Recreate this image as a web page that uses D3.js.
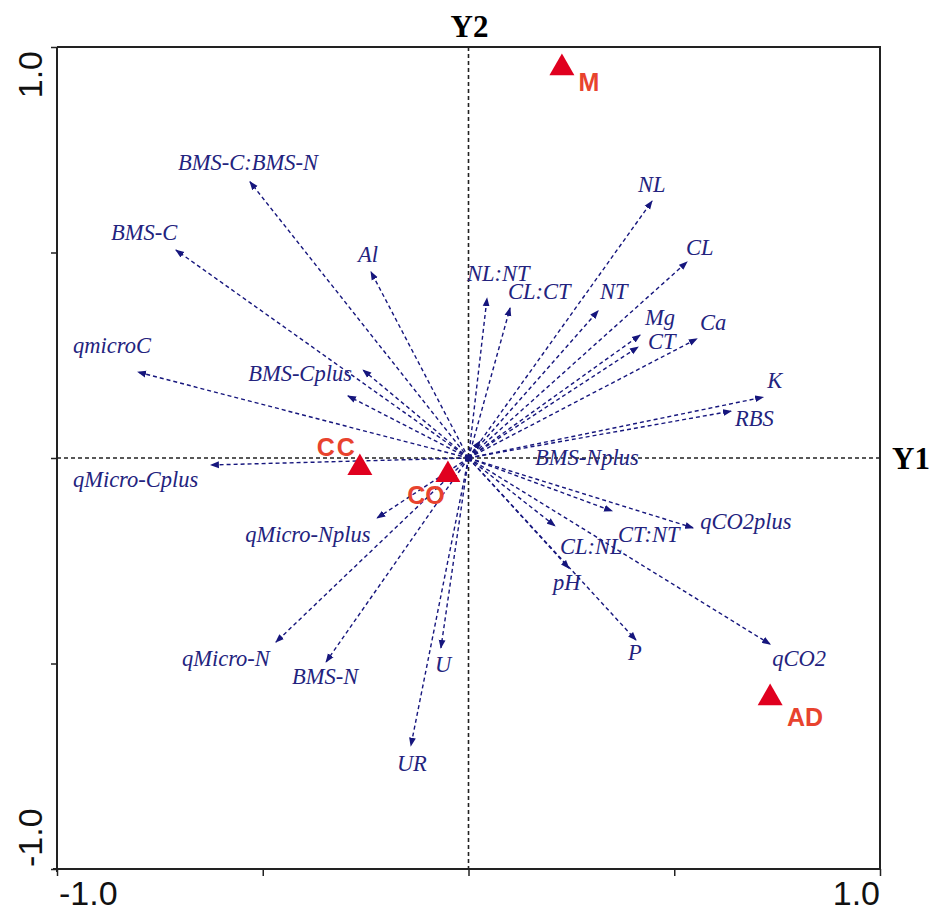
<!DOCTYPE html>
<html>
<head>
<meta charset="utf-8">
<script src="https://cdn.jsdelivr.net/npm/d3@7"></script>
<style>
  html, body { margin: 0; padding: 0; background: #fff; }
  svg { display: block; }
</style>
</head>
<body>
<svg id="chart" width="929" height="911"></svg>
<script>
// ---- data ----
const varNames = ["BMS-C:BMS-N","BMS-C","Al","qmicroC","BMS-Cplus","","qMicro-Cplus","qMicro-Nplus",
  "qMicro-N","BMS-N","U","UR","NL:NT","CL:CT","NT","NL","CL","Mg","CT","Ca","K","RBS",
  "BMS-Nplus","qCO2plus","CT:NT","CL:NL","pH","P","qCO2"];
const varX = [-0.531,-0.711,-0.237,-0.803,-0.256,-0.293,-0.626,-0.222,
  -0.468,-0.346,-0.067,-0.140,0.045,0.101,0.315,0.446,0.531,0.417,0.412,0.555,0.716,0.638,
  0.028,0.546,0.349,0.210,0.244,0.407,0.733];
const varY = [0.672,0.506,0.453,0.209,0.214,0.151,-0.017,-0.146,
  -0.448,-0.496,-0.462,-0.700,0.389,0.365,0.358,0.625,0.477,0.299,0.270,0.290,0.148,0.114,
  0.041,-0.170,-0.129,-0.165,-0.268,-0.443,-0.453];

const siteNames = ["M","CC","CO","AD"];
const siteX = [0.227,-0.264,-0.050,0.733];
const siteY = [0.949,-0.024,-0.041,-0.584];

const axisTicks = [-1,-0.5,0,0.5,1];
const tickLabels = {"-1": "-1.0", "1": "1.0"};
const axisTitles = {x: "Y1", y: "Y2"};

// ---- layout (label placement offsets in px, relative to arrow tip / symbol) ----
const varLabelOffset = {
  "BMS-C:BMS-N":[-72,-19], "BMS-C":[-65,-17], "Al":[-13,-17], "qmicroC":[-65,-27],
  "BMS-Cplus":[-115,4], "":[0,0], "qMicro-Cplus":[-138,15], "qMicro-Nplus":[-132,17],
  "qMicro-N":[-94,16], "BMS-N":[-34,15], "U":[-6,17], "UR":[-14,18],
  "NL:NT":[-20,-25], "CL:CT":[-2,-16], "NT":[2,-19], "NL":[-14,-17], "CL":[-1,-14],
  "Mg":[5,-18], "CT":[10,-5], "Ca":[3,-16], "K":[4,-17], "RBS":[4,7],
  "BMS-Nplus":[55,16], "qCO2plus":[7,-6], "CT:NT":[6,24], "CL:NL":[5,21],
  "pH":[-16,14], "P":[-8,13], "qCO2":[2,14]
};
const siteLabelOffset = {"M":[27,14], "CC":[-23,-21], "CO":[-22,20], "AD":[35,19]};

const pL = 57, pR = 880, pT = 47, pB = 869;
const svg = d3.select("#chart");

const x = d3.scaleLinear().domain([-1,1]).range([pL, pR]);
const y = d3.scaleLinear().domain([-1,1]).range([pB, pT]);

const navy = "#16167d";

// arrow marker
const defs = svg.append("defs");
defs.append("marker")
  .attr("id","ah").attr("markerUnits","userSpaceOnUse")
  .attr("viewBox","0 -4 9 8").attr("refX",8).attr("refY",0)
  .attr("markerWidth",9).attr("markerHeight",8).attr("orient","auto")
  .append("path").attr("d","M0,-3.4L9,0L0,3.4Z").attr("fill", navy);

// axes (ticks)
const xAxis = d3.axisBottom(x).tickValues(axisTicks).tickSize(7).tickFormat("");
const gx = svg.append("g").attr("transform",`translate(0,${pB})`).call(xAxis);
gx.select(".domain").attr("stroke","#222").attr("stroke-width",2).attr("d",`M${pL-4},0H${pR}`);
gx.selectAll(".tick line").attr("stroke","#222").attr("stroke-width",1.5);

const yAxis = d3.axisLeft(y).tickValues(axisTicks).tickSize(6).tickFormat("");
const gy = svg.append("g").attr("transform",`translate(${pL},0)`).call(yAxis);
gy.select(".domain").attr("stroke","#222").attr("stroke-width",2).attr("d",`M0,${pT}V${pB+3}`);
gy.selectAll(".tick line").attr("stroke","#222").attr("stroke-width",1.5);

// frame top and right
svg.append("path").attr("d",`M${pL},${pT}H${pR}V${pB}`)
  .attr("fill","none").attr("stroke","#222").attr("stroke-width",2);

// tick labels
const sans = "Liberation Sans, Arial, sans-serif";
svg.append("text").attr("x", x(-1)+2).attr("y", 905)
  .attr("font-family",sans).attr("font-size",34)
  .attr("text-anchor","start").attr("fill","#111").text(tickLabels["-1"]);
svg.append("text").attr("x", x(1)).attr("y", 905)
  .attr("font-family",sans).attr("font-size",34)
  .attr("text-anchor","end").attr("fill","#111").text(tickLabels["1"]);
svg.append("text").attr("transform",`translate(42,${y(1)+4}) rotate(-90)`)
  .attr("font-family",sans).attr("font-size",34)
  .attr("text-anchor","end").attr("fill","#111").text(tickLabels["1"]);
svg.append("text").attr("transform",`translate(42,${y(-1)-2}) rotate(-90)`)
  .attr("font-family",sans).attr("font-size",34)
  .attr("text-anchor","start").attr("fill","#111").text(tickLabels["-1"]);

// dashed zero lines
svg.append("line").attr("x1",pL).attr("x2",pR).attr("y1",y(0)).attr("y2",y(0))
  .attr("stroke","#222").attr("stroke-width",1.6).attr("stroke-dasharray","4,3");
svg.append("line").attr("x1",x(0)).attr("x2",x(0)).attr("y1",pT).attr("y2",pB)
  .attr("stroke","#222").attr("stroke-width",1.6).attr("stroke-dasharray","4,3");

// axis titles
const serif = "Liberation Serif, Times New Roman, serif";
svg.append("text").attr("x", x(0)+1).attr("y", 37).attr("text-anchor","middle")
  .attr("font-family",serif).attr("font-weight","bold")
  .attr("font-size",31).attr("fill","#000").text(axisTitles.y);
svg.append("text").attr("x", 892).attr("y", y(0)+11).attr("text-anchor","start")
  .attr("font-family",serif).attr("font-weight","bold")
  .attr("font-size",31).attr("fill","#000").text(axisTitles.x);

// variable arrows
const vars = varNames.map((n,i) => ({name:n, x:varX[i], y:varY[i]}));
const gv = svg.append("g");
gv.selectAll("line.arrow").data(vars).join("line")
  .attr("class","arrow")
  .attr("x1", x(0)).attr("y1", y(0))
  .attr("x2", d => x(d.x)).attr("y2", d => y(d.y))
  .attr("stroke", navy).attr("stroke-width",1.4).attr("stroke-dasharray","4,3")
  .attr("marker-end","url(#ah)");

svg.append("rect").attr("x", x(0)-3.5).attr("y", y(0)-3.5).attr("width",7).attr("height",7)
  .attr("fill", navy);

gv.selectAll("text.vl").data(vars.filter(d => d.name !== "")).join("text")
  .attr("class","vl")
  .attr("x", d => x(d.x) + varLabelOffset[d.name][0])
  .attr("y", d => y(d.y) + varLabelOffset[d.name][1])
  .attr("dy","0.33em")
  .attr("font-family",serif)
  .attr("font-style","italic").attr("font-size",22.5)
  .attr("fill","#23237e")
  .text(d => d.name);

// sites
const sites = siteNames.map((n,i) => ({name:n, x:siteX[i], y:siteY[i]}));
const sym = d3.symbol().type(d3.symbolTriangle).size(270);
svg.append("g").selectAll("path").data(sites).join("path")
  .attr("transform", d => `translate(${x(d.x)},${y(d.y)})`)
  .attr("d", sym).attr("fill","#e0001f");
svg.append("g").selectAll("text").data(sites).join("text")
  .attr("x", d => x(d.x) + siteLabelOffset[d.name][0])
  .attr("y", d => y(d.y) + siteLabelOffset[d.name][1])
  .attr("dy","0.36em").attr("text-anchor","middle")
  .attr("font-family",sans).attr("font-weight","bold")
  .attr("font-size",25).attr("letter-spacing", d => d.name === "CC" ? 2 : 0)
  .attr("fill","#e8432e")
  .text(d => d.name);
</script>
</body>
</html>
